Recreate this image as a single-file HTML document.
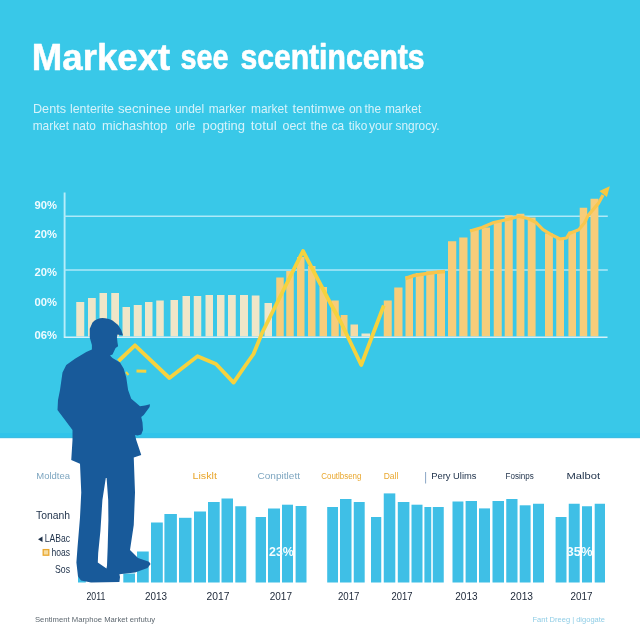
<!DOCTYPE html>
<html lang="en"><head><meta charset="utf-8"><title>Market sentiments</title>
<style>
html,body{margin:0;padding:0;background:#fff;}
body{width:640px;height:640px;overflow:hidden;position:relative;font-family:"Liberation Sans",sans-serif;}
svg{position:absolute;left:0;top:0;display:block;}
text{font-family:"Liberation Sans",sans-serif;}
</style></head><body>
<svg width="640" height="640" viewBox="0 0 640 640">
<rect x="0" y="0" width="640" height="438.3" fill="#39c8e8"/>
<rect x="0" y="433" width="640" height="5.3" fill="#30c4ea"/>
<rect x="0" y="437.3" width="640" height="1" fill="#43b9de"/>
<rect x="0" y="438.3" width="640" height="201.7" fill="#ffffff"/>
<text font-size="36" font-weight="700" fill="#ffffff" stroke="#ffffff" stroke-width="0.5" stroke-linejoin="round" y="69.5"><tspan x="31.8" textLength="138.4" lengthAdjust="spacingAndGlyphs">Markext</tspan></text><text font-size="35" font-weight="700" fill="#ffffff" stroke="#ffffff" stroke-width="0.7" stroke-linejoin="round" y="69.4"><tspan x="180.4" textLength="48" lengthAdjust="spacingAndGlyphs">see</tspan><tspan x="240.4" textLength="184.2" lengthAdjust="spacingAndGlyphs">scentincents</tspan></text>
<text y="113" font-size="13.2" fill="#d6f3fb"><tspan x="33.0" textLength="33.0" lengthAdjust="spacingAndGlyphs">Dents</tspan> <tspan x="70.0" textLength="44.0" lengthAdjust="spacingAndGlyphs">lenterite</tspan> <tspan x="118.0" textLength="53.0" lengthAdjust="spacingAndGlyphs">secninee</tspan> <tspan x="175.0" textLength="29.1" lengthAdjust="spacingAndGlyphs">undel</tspan> <tspan x="208.7" textLength="37.0" lengthAdjust="spacingAndGlyphs">marker</tspan> <tspan x="251.0" textLength="36.5" lengthAdjust="spacingAndGlyphs">market</tspan> <tspan x="292.5" textLength="52.5" lengthAdjust="spacingAndGlyphs">tentimwe</tspan> <tspan x="348.9" textLength="13.3" lengthAdjust="spacingAndGlyphs">on</tspan> <tspan x="364.5" textLength="16.5" lengthAdjust="spacingAndGlyphs">the</tspan> <tspan x="384.9" textLength="36.3" lengthAdjust="spacingAndGlyphs">market</tspan></text>
<text y="129.5" font-size="13.2" fill="#d6f3fb"><tspan x="32.7" textLength="36.3" lengthAdjust="spacingAndGlyphs">market</tspan> <tspan x="72.7" textLength="23.1" lengthAdjust="spacingAndGlyphs">nato</tspan> <tspan x="102.0" textLength="65.5" lengthAdjust="spacingAndGlyphs">michashtop</tspan> <tspan x="175.6" textLength="19.8" lengthAdjust="spacingAndGlyphs">orle</tspan> <tspan x="202.5" textLength="42.5" lengthAdjust="spacingAndGlyphs">pogting</tspan> <tspan x="250.8" textLength="26.0" lengthAdjust="spacingAndGlyphs">totul</tspan> <tspan x="282.5" textLength="23.5" lengthAdjust="spacingAndGlyphs">oect</tspan> <tspan x="310.5" textLength="17.0" lengthAdjust="spacingAndGlyphs">the</tspan> <tspan x="331.7" textLength="12.5" lengthAdjust="spacingAndGlyphs">ca</tspan> <tspan x="348.8" textLength="18.5" lengthAdjust="spacingAndGlyphs">tiko</tspan> <tspan x="369.0" textLength="23.5" lengthAdjust="spacingAndGlyphs">your</tspan> <tspan x="395.5" textLength="44.0" lengthAdjust="spacingAndGlyphs">sngrocy.</tspan></text>
<line x1="64.6" y1="192.5" x2="64.6" y2="338" stroke="#b6edfa" stroke-width="1.9"/>
<g stroke="#aee9f8" stroke-width="1.4" fill="none">
<line x1="64" y1="216.3" x2="607.8" y2="216.3"/>
<line x1="64" y1="270" x2="607.8" y2="270"/>
</g>
<text x="34.5" y="208.7" font-size="11" font-weight="700" fill="#f0fbff" textLength="22.5" lengthAdjust="spacingAndGlyphs">90%</text>
<text x="34.5" y="238.0" font-size="11" font-weight="700" fill="#f0fbff" textLength="22.5" lengthAdjust="spacingAndGlyphs">20%</text>
<text x="34.5" y="276.0" font-size="11" font-weight="700" fill="#f0fbff" textLength="22.5" lengthAdjust="spacingAndGlyphs">20%</text>
<text x="34.5" y="306.0" font-size="11" font-weight="700" fill="#f0fbff" textLength="22.5" lengthAdjust="spacingAndGlyphs">00%</text>
<text x="34.5" y="338.7" font-size="11" font-weight="700" fill="#f0fbff" textLength="22.5" lengthAdjust="spacingAndGlyphs">06%</text>
<rect x="76.25" y="302" width="8.00" height="34.50" fill="#efe6c8"/>
<rect x="88" y="298" width="7.75" height="38.50" fill="#efe6c8"/>
<rect x="99.5" y="293" width="7.50" height="43.50" fill="#efe6c8"/>
<rect x="111.25" y="293" width="7.75" height="43.50" fill="#efe6c8"/>
<rect x="122.5" y="307" width="7.50" height="29.50" fill="#efe6c8"/>
<rect x="133.75" y="305" width="8.00" height="31.50" fill="#efe6c8"/>
<rect x="145" y="302" width="7.50" height="34.50" fill="#efe6c8"/>
<rect x="156.25" y="300.5" width="7.50" height="36.00" fill="#efe6c8"/>
<rect x="170.5" y="300" width="7.50" height="36.50" fill="#efe6c8"/>
<rect x="182.5" y="296" width="7.50" height="40.50" fill="#efe6c8"/>
<rect x="193.75" y="296" width="7.50" height="40.50" fill="#efe6c8"/>
<rect x="205.5" y="295" width="7.50" height="41.50" fill="#efe6c8"/>
<rect x="217" y="295" width="7.50" height="41.50" fill="#efe6c8"/>
<rect x="228" y="295" width="7.75" height="41.50" fill="#efe6c8"/>
<rect x="240" y="295" width="8.00" height="41.50" fill="#efe6c8"/>
<rect x="251.75" y="295.5" width="7.75" height="41.00" fill="#efe6c8"/>
<rect x="264.5" y="303" width="7.50" height="33.50" fill="#efe6c8"/>
<rect x="276.25" y="277.5" width="7.50" height="59.00" fill="#f7cd7a"/>
<rect x="286.25" y="271" width="7.50" height="65.50" fill="#f7cd7a"/>
<rect x="297" y="257" width="7.50" height="79.50" fill="#f7cd7a"/>
<rect x="308" y="266" width="7.50" height="70.50" fill="#f7cd7a"/>
<rect x="319.5" y="287" width="7.50" height="49.50" fill="#f7cd7a"/>
<rect x="331.25" y="300.5" width="7.50" height="36.00" fill="#f7cd7a"/>
<rect x="340.75" y="315" width="6.75" height="21.50" fill="#f7cd7a"/>
<rect x="350.5" y="324.5" width="7.50" height="12.00" fill="#f6dba6"/>
<rect x="361.5" y="333.5" width="8.50" height="3.00" fill="#efe6c8"/>
<rect x="383.75" y="300.5" width="8.00" height="36.00" fill="#f7cd7a"/>
<rect x="394.25" y="287.5" width="8.25" height="49.00" fill="#f7cd7a"/>
<rect x="405.5" y="276.25" width="7.50" height="60.25" fill="#f7cd7a"/>
<rect x="415.75" y="273" width="8.00" height="63.50" fill="#f7cd7a"/>
<rect x="426.25" y="271.25" width="8.25" height="65.25" fill="#f7cd7a"/>
<rect x="437" y="270" width="8.00" height="66.50" fill="#f7cd7a"/>
<rect x="448" y="241.25" width="8.25" height="95.25" fill="#f7cd7a"/>
<rect x="459.25" y="237.5" width="8.25" height="99.00" fill="#f7cd7a"/>
<rect x="470.5" y="229" width="8.25" height="107.50" fill="#f7cd7a"/>
<rect x="481.75" y="227.5" width="8.25" height="109.00" fill="#f7cd7a"/>
<rect x="493.75" y="221.25" width="8.00" height="115.25" fill="#f7cd7a"/>
<rect x="504.7" y="215.25" width="8.05" height="121.25" fill="#f7cd7a"/>
<rect x="516.5" y="213.75" width="7.90" height="122.75" fill="#f7cd7a"/>
<rect x="527.75" y="217.5" width="7.85" height="119.00" fill="#f7cd7a"/>
<rect x="545" y="233.4" width="7.90" height="103.10" fill="#f7cd7a"/>
<rect x="556.25" y="239" width="7.75" height="97.50" fill="#f7cd7a"/>
<rect x="568.4" y="231.5" width="7.60" height="105.00" fill="#f7cd7a"/>
<rect x="579.7" y="207.75" width="7.50" height="128.75" fill="#f7cd7a"/>
<rect x="590.5" y="198.75" width="7.90" height="137.75" fill="#f7cd7a"/>
<line x1="64" y1="337.2" x2="607.5" y2="337.2" stroke="#d4f1fa" stroke-width="1.6"/>
<polyline fill="none" stroke="#f6d23e" stroke-width="3.8" stroke-linejoin="round" stroke-linecap="butt" points="118.5,361 135,345.3 169.4,378 197.5,356.25 216,364 233.6,382.6 244,367.5 253.5,354 262.5,332 303,251 330,302.5 341,322.5 361.25,365 383.8,305.5"/>
<line x1="136.5" y1="371" x2="146.3" y2="371.3" stroke="#f6d23e" stroke-width="3"/>
<line x1="126" y1="372" x2="128.5" y2="375" stroke="#f6d23e" stroke-width="2"/>
<polyline fill="none" stroke="#f9c74e" stroke-width="3.2" stroke-linejoin="round" points="470,231 482,227.5 493.75,222.5 507.5,219.5 518.75,216.5 528,218.5 535.6,222.2 543,229.7 552.5,235.3 560,239 566.5,238 569.4,233.4 578.75,229.7 584.4,223 588,215.6 598.4,203.4 603,195"/>
<polyline fill="none" stroke="#f8c44a" stroke-width="3.5" points="405.5,278.5 414,275.5 424,274 434,272.5 445,271.5"/>
<polygon points="599.4,191 609.8,186.3 606.9,197" fill="#f8c840"/>
<rect x="78" y="576.5" width="7.80" height="6.00" fill="#3fbfe6"/>
<rect x="123.3" y="573.5" width="11.70" height="9.00" fill="#3fbfe6"/>
<rect x="137" y="551.5" width="11.75" height="31.00" fill="#3fbfe6"/>
<rect x="151" y="522.5" width="11.80" height="60.00" fill="#3fbfe6"/>
<rect x="164.4" y="514" width="12.50" height="68.50" fill="#3fbfe6"/>
<rect x="179" y="517.8" width="12.50" height="64.70" fill="#3fbfe6"/>
<rect x="194" y="511.5" width="12.00" height="71.00" fill="#3fbfe6"/>
<rect x="208" y="502" width="11.70" height="80.50" fill="#3fbfe6"/>
<rect x="221.5" y="498.5" width="11.50" height="84.00" fill="#3fbfe6"/>
<rect x="235.3" y="506.25" width="10.95" height="76.25" fill="#3fbfe6"/>
<rect x="255.6" y="517" width="10.40" height="65.50" fill="#3fbfe6"/>
<rect x="268" y="508.5" width="12.00" height="74.00" fill="#3fbfe6"/>
<rect x="282" y="504.7" width="11.00" height="77.80" fill="#3fbfe6"/>
<rect x="295.6" y="506" width="10.90" height="76.50" fill="#3fbfe6"/>
<rect x="327.2" y="507" width="10.80" height="75.50" fill="#3fbfe6"/>
<rect x="340" y="499" width="11.50" height="83.50" fill="#3fbfe6"/>
<rect x="353.75" y="502" width="10.95" height="80.50" fill="#3fbfe6"/>
<rect x="371" y="517" width="10.25" height="65.50" fill="#3fbfe6"/>
<rect x="383.75" y="493.4" width="11.55" height="89.10" fill="#3fbfe6"/>
<rect x="397.8" y="502" width="11.60" height="80.50" fill="#3fbfe6"/>
<rect x="411.5" y="504.7" width="11.00" height="77.80" fill="#3fbfe6"/>
<rect x="424.4" y="507" width="6.85" height="75.50" fill="#3fbfe6"/>
<rect x="432.8" y="507" width="10.95" height="75.50" fill="#3fbfe6"/>
<rect x="452.5" y="501.5" width="10.90" height="81.00" fill="#3fbfe6"/>
<rect x="465.6" y="501" width="11.40" height="81.50" fill="#3fbfe6"/>
<rect x="479" y="508.4" width="11.00" height="74.10" fill="#3fbfe6"/>
<rect x="492.5" y="501" width="11.50" height="81.50" fill="#3fbfe6"/>
<rect x="506.25" y="499" width="11.25" height="83.50" fill="#3fbfe6"/>
<rect x="519.7" y="505.3" width="10.90" height="77.20" fill="#3fbfe6"/>
<rect x="533" y="503.75" width="11.00" height="78.75" fill="#3fbfe6"/>
<rect x="555.6" y="517" width="10.90" height="65.50" fill="#3fbfe6"/>
<rect x="568.75" y="503.75" width="10.95" height="78.75" fill="#3fbfe6"/>
<rect x="582" y="506.25" width="10.00" height="76.25" fill="#3fbfe6"/>
<rect x="594.7" y="503.75" width="10.30" height="78.75" fill="#3fbfe6"/>
<path d="M102.5,318 C106,318 110,319 112.5,320.6 L118.1,325 L121.25,330 L123.1,335.6 L117.5,334.4 L116.9,336.9 L117.5,342.5 L118.1,346.25 L115.6,348.1 L112.5,354.4 L110,355.6 L112.5,358.1 L120,362.5 L123.75,368.75 L126.25,377.5 L128.1,390 L131.25,398.75 L136.25,403 L140,406.25 L145,405.6 L150,404.2 L149.6,406.9 L143.75,415 L141.25,416.9 L142.5,422.5 L143,430 L141.25,434.4 L137.5,435.6 L135,435 L136.25,440 L138.75,447.5 L141.25,455 L137.5,456.25 L133.75,457.5 L135,492.5 L133.75,525 L130,550 L138,558 L149,561.7 L150.6,564 L147.5,568 L135,572.6 L119.4,574.2 L120,577 L119.4,582 L91,582.5 L81,580.5 L78,576.5 L76.4,562.5 L77.5,547.5 L80,517.5 L81.25,492.5 L80,463.75 L71.25,460 L72.5,440 L72.5,430 L65,420 L57.5,410 L58,400 L60,390 L62.5,372.5 L66.25,365 L75,358.75 L86.25,351.9 L91.9,349.4 L91.9,345 L89.75,337.5 L89.75,328.75 L92.5,322.5 C95,319.5 99,318 102.5,318 Z" fill="#185a9a"/>
<path d="M105.8,478 L102.4,500 L100.4,531 L98.2,553 L97.8,562.5 L106.5,568.5 L107,565.6 L107.7,547 L108.4,520 L108.2,500 L106.6,478 Z" fill="#ffffff"/>
<text x="36.3" y="479.2" font-size="9.6" fill="#7ea6c0" textLength="33.7" lengthAdjust="spacingAndGlyphs">Moldtea</text>
<text x="36" y="518.7" font-size="10.5" fill="#1c2f48" textLength="34.0" lengthAdjust="spacingAndGlyphs">Tonanh</text>
<text x="37.5" y="541.7" font-size="10.5" fill="#1c2f48" textLength="32.5" lengthAdjust="spacingAndGlyphs">◂ LABac</text>
<rect x="43.2" y="549.6" width="5.6" height="5.6" fill="#f6dca0" stroke="#e9a72e" stroke-width="1.3"/>
<text x="51.5" y="556.2" font-size="10.5" fill="#1c2f48" textLength="18.5" lengthAdjust="spacingAndGlyphs">hoas</text>
<text x="55" y="573.2" font-size="10.5" fill="#1c2f48" textLength="15.0" lengthAdjust="spacingAndGlyphs">Sos</text>
<text x="192.5" y="479.2" font-size="9.6" fill="#e9a72e" textLength="24.5" lengthAdjust="spacingAndGlyphs">Lisklt</text>
<text x="257.5" y="479.2" font-size="9.6" fill="#7ea6c0" textLength="42.5" lengthAdjust="spacingAndGlyphs">Conpitlett</text>
<text x="321.25" y="479.2" font-size="9.6" fill="#e9a72e" textLength="40.2" lengthAdjust="spacingAndGlyphs">Coutlbseng</text>
<text x="383.75" y="479.2" font-size="9.6" fill="#e9a72e" textLength="14.6" lengthAdjust="spacingAndGlyphs">Dall</text>
<line x1="425.6" y1="472" x2="425.6" y2="483.5" stroke="#7d9cc0" stroke-width="0.9"/>
<text x="431.25" y="479.2" font-size="9.6" fill="#1c2f48" textLength="45.2" lengthAdjust="spacingAndGlyphs">Pery Ulims</text>
<text x="505.6" y="479.2" font-size="9.6" fill="#1c2f48" textLength="28.1" lengthAdjust="spacingAndGlyphs">Fosinps</text>
<text x="566.5" y="479.2" font-size="9.6" fill="#1c2f48" textLength="33.5" lengthAdjust="spacingAndGlyphs">Malbot</text>
<text x="86.5" y="600.0" font-size="10" fill="#1a2536" textLength="18.8" lengthAdjust="spacingAndGlyphs">2011</text>
<text x="145" y="600.0" font-size="10" fill="#1a2536" textLength="22.0" lengthAdjust="spacingAndGlyphs">2013</text>
<text x="206.5" y="600.0" font-size="10" fill="#1a2536" textLength="22.9" lengthAdjust="spacingAndGlyphs">2017</text>
<text x="269.7" y="600.0" font-size="10" fill="#1a2536" textLength="22.3" lengthAdjust="spacingAndGlyphs">2017</text>
<text x="338" y="600.0" font-size="10" fill="#1a2536" textLength="21.4" lengthAdjust="spacingAndGlyphs">2017</text>
<text x="391.5" y="600.0" font-size="10" fill="#1a2536" textLength="21.0" lengthAdjust="spacingAndGlyphs">2017</text>
<text x="455.3" y="600.0" font-size="10" fill="#1a2536" textLength="22.2" lengthAdjust="spacingAndGlyphs">2013</text>
<text x="510.3" y="600.0" font-size="10" fill="#1a2536" textLength="22.7" lengthAdjust="spacingAndGlyphs">2013</text>
<text x="570.6" y="600.0" font-size="10" fill="#1a2536" textLength="21.9" lengthAdjust="spacingAndGlyphs">2017</text>
<text x="269" y="555.8" font-size="13.5" font-weight="700" fill="#f4fcff" textLength="24.8" lengthAdjust="spacingAndGlyphs">23%</text>
<text x="566.5" y="555.8" font-size="13.5" font-weight="700" fill="#f4fcff" textLength="26.0" lengthAdjust="spacingAndGlyphs">35%</text>
<text x="35" y="621.6" font-size="8" fill="#5e6870" textLength="120.0" lengthAdjust="spacingAndGlyphs">Sentiment Marphoe Market enfutuy</text>
<text x="532.5" y="621.6" font-size="8" fill="#8fcde6" textLength="72.5" lengthAdjust="spacingAndGlyphs">Fant Dreeg | digogate</text>
</svg></body></html>
